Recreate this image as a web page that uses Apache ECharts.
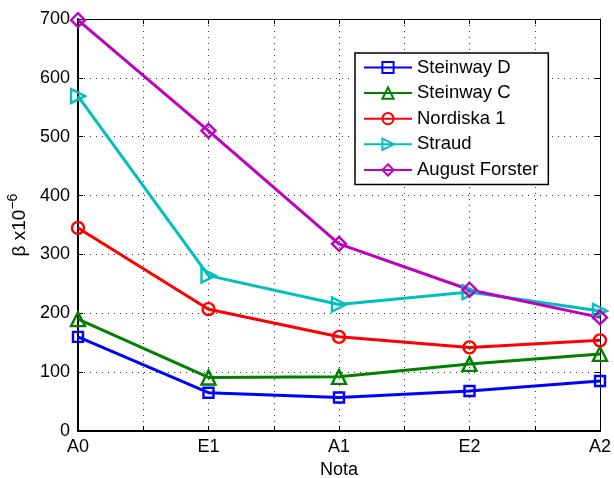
<!DOCTYPE html>
<html>
<head>
<meta charset="utf-8">
<script src="https://cdn.jsdelivr.net/npm/echarts@6/dist/echarts.min.js"></script>
<style>html,body{margin:0;padding:0;background:#fff}#c{width:614px;height:478px}</style>
</head>
<body>
<div id="c"></div>
<script>
const notes = ['A0', 'E1', 'A1', 'E2', 'A2'];
const yTicks = [0, 100, 200, 300, 400, 500, 600, 700];
const steinwayD = [160, 65, 57, 68, 85];
const steinwayC = [190, 91, 92, 114, 131];
const nordiska1 = [345, 207, 160, 142, 154];
const straud = [569, 264, 215, 236, 204];
const augustForster = [698, 510, 318, 240, 193];

const FONT = 'Liberation Sans';
const chart = echarts.init(document.getElementById('c'), null, {renderer: 'canvas'});

function mk(name, vals, color, symbol, size, rotate) {
  return {
    name: name,
    type: 'line',
    data: vals.map((v, i) => [i, v]),
    symbol: symbol,
    symbolSize: size,
    symbolRotate: rotate || 0,
    showAllSymbol: true,
    lineStyle: {color: color, width: 3},
    itemStyle: {color: '#ffffff00', borderColor: color, borderWidth: 2.4},
    emphasis: {disabled: true},
    animation: false,
    z: 3
  };
}

const gridLine = {show: true, lineStyle: {color: '#333', type: [1, 5], width: 1}};

chart.setOption({
  animation: false,
  textStyle: {fontFamily: FONT},
  grid: {left: 78, top: 19, right: 14, bottom: 47, containLabel: false, outerBoundsMode: 'none'},
  legend: {
    orient: 'vertical',
    left: 355, top: 53,
    width: 193,
    padding: [5, 10, 5, 8],
    itemWidth: 48, itemHeight: 14, itemGap: 6.6,
    backgroundColor: '#fff',
    borderColor: '#000', borderWidth: 1.5,
    textStyle: {fontSize: 18.5, color: '#000', fontFamily: FONT, padding: [0, 0, 0, 0]},
    data: ['Steinway D', 'Steinway C', 'Nordiska 1', 'Straud', 'August Forster']
  },
  xAxis: [{
    type: 'value', min: 0, max: 4, interval: 0.5,
    name: 'Nota', nameLocation: 'middle', nameGap: 28,
    nameTextStyle: {fontSize: 18, color: '#000', fontFamily: FONT},
    axisLine: {show: true, lineStyle: {color: '#000', width: 2}},
    axisTick: {show: true, inside: true, length: 5, lineStyle: {color: '#000', width: 1}},
    axisLabel: {fontSize: 18, color: '#000', margin: 7, fontFamily: FONT,
      formatter: v => Number.isInteger(v) ? notes[v] : ''},
    splitLine: gridLine
  }, {
    type: 'value', min: 0, max: 4, interval: 0.5, position: 'top',
    axisLine: {show: true, onZero: false, lineStyle: {color: '#000', width: 1}},
    axisTick: {show: true, inside: true, length: 5, lineStyle: {color: '#000'}},
    axisLabel: {show: false}, splitLine: {show: false}
  }],
  yAxis: [{
    type: 'value', min: 0, max: 700, interval: 100,
    name: 'β x10{sup|−6}', nameLocation: 'middle', nameGap: 41, nameRotate: 90,
    nameTextStyle: {fontSize: 19, color: '#000', fontFamily: FONT,
      rich: {sup: {fontSize: 14, color: '#000', verticalAlign: 'top', padding: [0, 0, 12, 0], fontFamily: FONT}}},
    axisLine: {show: true, lineStyle: {color: '#000', width: 2}},
    axisTick: {show: true, inside: true, length: 5, lineStyle: {color: '#000'}},
    axisLabel: {fontSize: 18, color: '#000', margin: 8, fontFamily: FONT,
      formatter: v => yTicks.includes(v) ? String(v) : ''},
    splitLine: gridLine
  }, {
    type: 'value', min: 0, max: 700, interval: 100, position: 'right',
    axisLine: {show: true, onZero: false, lineStyle: {color: '#000', width: 1}},
    axisTick: {show: true, inside: true, length: 5, lineStyle: {color: '#000'}},
    axisLabel: {show: false}, splitLine: {show: false}
  }],
  series: [
    mk('Steinway D', steinwayD, '#0000ff', 'rect', 10),
    mk('Steinway C', steinwayC, '#008000', 'triangle', 14),
    mk('Nordiska 1', nordiska1, '#ff0000', 'circle', 12),
    mk('Straud', straud, '#00bfbf', 'triangle', 14, -90),
    mk('August Forster', augustForster, '#bf00bf', 'diamond', 14)
  ]
});
</script>
</body>
</html>
